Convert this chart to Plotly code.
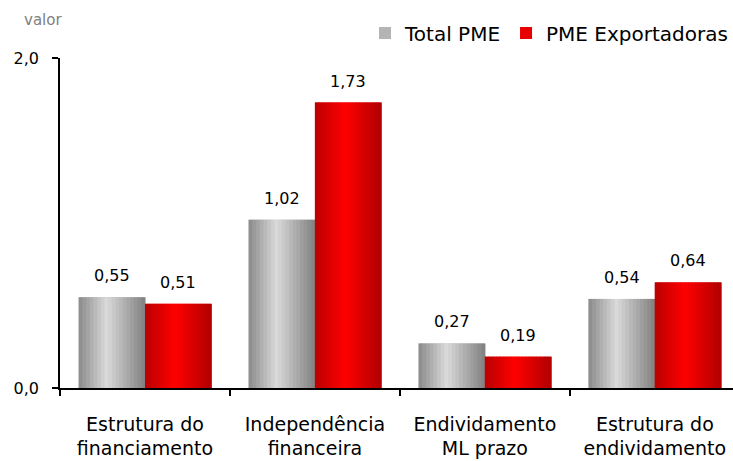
import plotly.graph_objects as go

categories = ["Estrutura do<br>financiamento", "Independência<br>financeira",
              "Endividamento<br>ML prazo", "Estrutura do<br>endividamento"]
total_pme = [0.55, 1.02, 0.27, 0.54]
pme_export = [0.51, 1.73, 0.19, 0.64]
y_ticks = [0, 2]

FONT = "DejaVu Sans"
BAR_W = 0.39
N_STRIPS = 18
X_RANGE = [-0.5, 3.46]
PLOT_W = 733 - 60
PX_PER_CAT = PLOT_W / (X_RANGE[1] - X_RANGE[0])


def shade(t, left, peak, right, tp):
    # brightness profile across a bar: dark edges, light stripe near the middle
    if t <= tp:
        f = t / tp
        return [left[i] + (peak[i] - left[i]) * f for i in range(3)]
    f = (t - tp) / (1 - tp)
    return [peak[i] + (right[i] - peak[i]) * f for i in range(3)]


def rgb(c):
    return "rgb(%d,%d,%d)" % tuple(int(round(v)) for v in c)


series = [
    ("Total PME", total_pme, -BAR_W, "#b4b4b4",
     (138, 138, 138), (218, 218, 218), (128, 128, 128), 0.42),
    ("PME Exportadoras", pme_export, 0.0, "#e80000",
     (185, 0, 0), (255, 0, 0), (176, 0, 0), 0.45),
]

fig = go.Figure()
annotations = []

for name, vals, off, base, left, peak, right, tp in series:
    # base bar (legend)
    fig.add_bar(
        x=categories, y=vals, name=name, offset=off, width=BAR_W,
        marker=dict(color=base, line=dict(width=0)),
    )
    # vertical gradient strips on top
    sw = BAR_W / N_STRIPS
    for k in range(N_STRIPS):
        t = (k + 0.5) / N_STRIPS
        fig.add_bar(
            x=categories, y=vals, offset=off + k * sw, width=sw * 1.15,
            marker=dict(color=rgb(shade(t, left, peak, right, tp)), line=dict(width=0)),
            showlegend=False, hoverinfo="skip",
        )
    # value labels
    shift = (off + BAR_W / 2) * PX_PER_CAT
    for c, v in zip(categories, vals):
        annotations.append(dict(
            x=c, y=v, text=f"{v:.2f}".replace(".", ","), showarrow=False,
            xanchor="center", yanchor="bottom", xshift=shift, yshift=10,
            font=dict(family=FONT, size=16, color="black"),
        ))

annotations.append(dict(
    text="valor", xref="paper", yref="paper", x=0, y=1,
    xanchor="center", yanchor="middle", xshift=-17, yshift=38,
    showarrow=False, font=dict(family=FONT, size=15, color="#808080"),
))

fig.update_layout(
    width=733, height=461,
    barmode="overlay",
    separators=",.",
    plot_bgcolor="white", paper_bgcolor="white",
    margin=dict(l=60, r=0, t=58, b=73, autoexpand=False),
    font=dict(family=FONT, color="black"),
    legend=dict(
        orientation="h", x=1.0, xanchor="right", y=1.076, yanchor="middle",
        font=dict(family=FONT, size=20, color="black"),
        itemwidth=30, traceorder="normal",
        bgcolor="rgba(0,0,0,0)",
    ),
    annotations=annotations,
)

fig.update_xaxes(
    range=X_RANGE, showline=True, linecolor="black", linewidth=1.5,
    ticks="outside", tickson="boundaries", ticklen=6, tickcolor="black", tickwidth=1.5,
    tickfont=dict(family=FONT, size=19, color="black"), ticklabelstandoff=18,
    showgrid=False, zeroline=False, automargin=False,
)
fig.update_yaxes(
    range=[0, 2], tickvals=y_ticks, tickformat=".1f",
    showline=True, linecolor="black", linewidth=1.5,
    ticks="outside", ticklen=6, tickcolor="black", tickwidth=1.5,
    tickfont=dict(family=FONT, size=16, color="black"), ticklabelstandoff=10,
    showgrid=False, zeroline=False, automargin=False,
)

fig.write_html("out.html", config={"displayModeBar": False},
               post_script="document.body.style.margin='0';")
